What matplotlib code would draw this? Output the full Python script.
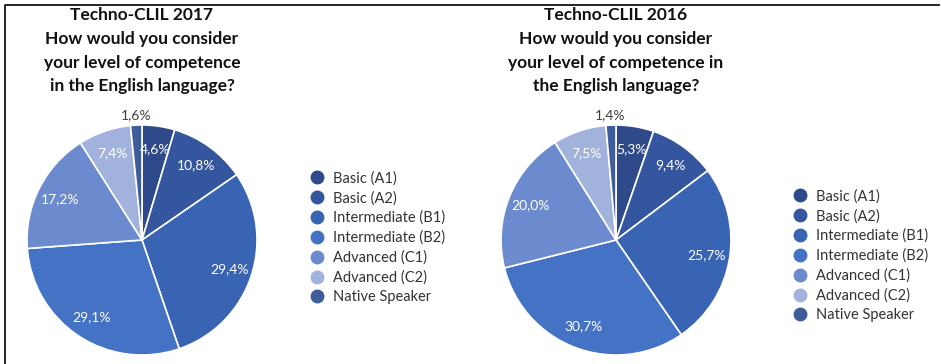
import matplotlib
matplotlib.use("Agg")
import matplotlib.pyplot as plt
from matplotlib.lines import Line2D
import numpy as np

plt.rcParams['font.family'] = ['Lato', 'DejaVu Sans']

categories = ["Basic (A1)", "Basic (A2)", "Intermediate (B1)", "Intermediate (B2)",
              "Advanced (C1)", "Advanced (C2)", "Native Speaker"]
values_2017 = [4.6, 10.8, 29.4, 29.1, 17.2, 7.4, 1.6]
values_2016 = [5.3, 9.4, 25.7, 30.7, 20.0, 7.5, 1.4]
title_2017 = "Techno-CLIL 2017\nHow would you consider\nyour level of competence\nin the English language?"
title_2016 = "Techno-CLIL 2016\nHow would you consider\nyour level of competence in\nthe English language?"
colors = ['#2F4A8A', '#34569F', '#3963B3', '#4472C4', '#6C8BCF', '#A1B2DD', '#3F5D9C']

W, H = 941, 364
fig = plt.figure(figsize=(W / 100, H / 100), dpi=100)

def fmt(v):
    return ("%.1f" % v).replace('.', ',') + '%'

def draw(cx, cy, r, vals, title, leg_x, leg_y):
    ax = fig.add_axes([(cx - r) / W, (H - cy - r) / H, 2 * r / W, 2 * r / H])
    wedges, _ = ax.pie(vals, colors=colors, startangle=90, counterclock=False,
                       wedgeprops=dict(edgecolor='white', linewidth=1.2))
    ax.set_xlim(-1, 1)
    ax.set_ylim(-1, 1)
    for w, v, name in zip(wedges, vals, categories):
        ang = np.deg2rad((w.theta1 + w.theta2) / 2)
        if name == "Native Speaker":
            rr, col = 1.09, '#404040'
        else:
            rr, col = 0.8, 'white'
        ax.text(rr * np.cos(ang), rr * np.sin(ang), fmt(v), ha='center', va='center',
                color=col, fontsize=10)
    fig.text(cx / W, 1 - 7 / H, title, ha='center', va='top', fontsize=12.5,
             fontweight='bold', linespacing=1.6, color='#111111')
    handles = [Line2D([], [], marker='o', linestyle='none', markersize=9,
                      markerfacecolor=c, markeredgecolor=c) for c in colors]
    fig.legend(handles, categories, loc='upper left',
               bbox_to_anchor=(leg_x / W, 1 - leg_y / H), frameon=False,
               fontsize=10.5, handlelength=1.0, handletextpad=0.6,
               labelspacing=0.38, borderpad=0, borderaxespad=0, labelcolor='#333333')

draw(142, 240, 115, values_2017, title_2017, 310, 171)
draw(616, 240, 115, values_2016, title_2016, 793, 189)

# frame lines (left + top)
fig.add_artist(Line2D([5 / W, 5 / W, 939 / W], [0, 1 - 5 / H, 1 - 5 / H],
                      transform=fig.transFigure, color='black', linewidth=1.2))

fig.savefig("out.png", dpi=100)
